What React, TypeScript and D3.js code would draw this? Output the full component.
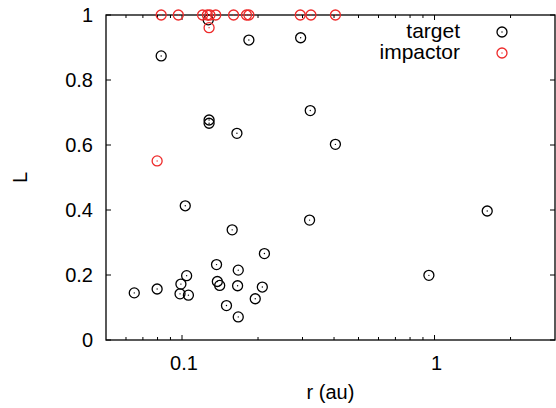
import React from "react";
import * as d3 from "d3";

const targetR = [0.0647, 0.0797, 0.099, 0.1043, 0.0982, 0.106, 0.103, 0.137, 0.138, 0.141, 0.150, 0.158, 0.167, 0.166, 0.167, 0.195, 0.208, 0.212, 0.32, 0.95, 1.617, 0.0827, 0.128, 0.128, 0.165, 0.184, 0.295, 0.322, 0.405, 0.127];
const targetL = [0.145, 0.157, 0.172, 0.198, 0.142, 0.138, 0.413, 0.232, 0.180, 0.168, 0.106, 0.339, 0.215, 0.167, 0.071, 0.127, 0.163, 0.266, 0.369, 0.199, 0.397, 0.874, 0.677, 0.667, 0.636, 0.923, 0.930, 0.706, 0.602, 0.985];

const impactorR = [0.0827, 0.0967, 0.1206, 0.126, 0.129, 0.136, 0.160, 0.180, 0.184, 0.294, 0.324, 0.405, 0.128, 0.0797];
const impactorL = [1, 1, 1, 1, 1, 1, 1, 1, 1, 1, 1, 1, 0.961, 0.551];

const xMajorTicks = [0.1, 1];
const xMajorLabels = ["0.1", "1"];
const xMinorTicks = [0.06, 0.07, 0.08, 0.09, 0.2, 0.3, 0.4, 0.5, 0.6, 0.7, 0.8, 0.9, 2];
const yTicks = [0, 0.2, 0.4, 0.6, 0.8, 1];
const yLabels = ["0", "0.2", "0.4", "0.6", "0.8", "1"];
const seriesNames = ["target", "impactor"];
const seriesColors = ["#000000", "#ee2a2a"];

const W = 556, H = 408;
const L = 106, R = 555, T = 15, B = 340;
const FONT = "'Liberation Sans', Arial, Helvetica, sans-serif";

function Marker({ x, y, color }: { x: number; y: number; color: string }) {
  return (
    <g>
      <circle cx={x} cy={y} r={5} fill="none" stroke={color} strokeWidth={1.3} />
      <circle cx={x} cy={y} r={0.7} fill={color} />
    </g>
  );
}

export default function App() {
  const x = d3.scaleLog().domain([0.05, 3]).range([L, R]);
  const y = d3.scaleLinear().domain([0, 1]).range([B, T]);
  const major = 5, minor = 3;
  return (
    <svg width={W} height={H} style={{ position: "absolute", left: 0, top: 0, background: "#fff" }} fontFamily={FONT}>
      {yTicks.map((t, i) => (
        <g key={"y" + i}>
          <line x1={L} x2={L + major} y1={y(t)} y2={y(t)} stroke="#000" strokeWidth={1} />
          <line x1={R} x2={R - major} y1={y(t)} y2={y(t)} stroke="#000" strokeWidth={1} />
          <text x={93} y={y(t) + 7} fontSize={20} textAnchor="end">{yLabels[i]}</text>
        </g>
      ))}
      {xMajorTicks.map((t, i) => (
        <g key={"x" + i}>
          <line x1={x(t)} x2={x(t)} y1={B} y2={B - major} stroke="#000" strokeWidth={1} />
          <line x1={x(t)} x2={x(t)} y1={T} y2={T + major} stroke="#000" strokeWidth={1} />
          <text x={x(t) + 2} y={370} fontSize={20} textAnchor="middle">{xMajorLabels[i]}</text>
        </g>
      ))}
      {xMinorTicks.map((t, i) => (
        <g key={"xm" + i}>
          <line x1={x(t)} x2={x(t)} y1={B} y2={B - minor} stroke="#000" strokeWidth={1} />
          <line x1={x(t)} x2={x(t)} y1={T} y2={T + minor} stroke="#000" strokeWidth={1} />
        </g>
      ))}
      <rect x={L} y={T} width={R - L} height={B - T} fill="none" stroke="#000" strokeWidth={1.3} />
      <text x={(L + R) / 2} y={399} fontSize={20} textAnchor="middle">r (au)</text>
      <text transform={`translate(27,${(T + B) / 2}) rotate(-90)`} fontSize={20} textAnchor="middle">L</text>
      {targetR.map((r, i) => (
        <Marker key={"t" + i} x={x(r)} y={y(targetL[i])} color={seriesColors[0]} />
      ))}
      {impactorR.map((r, i) => (
        <Marker key={"im" + i} x={x(r)} y={y(impactorL[i])} color={seriesColors[1]} />
      ))}
      {seriesNames.map((n, i) => (
        <g key={"lg" + i}>
          <text x={460} y={38 + i * 21} fontSize={21} textAnchor="end">{n}</text>
          <Marker x={502} y={32 + i * 21} color={seriesColors[i]} />
        </g>
      ))}
    </svg>
  );
}
